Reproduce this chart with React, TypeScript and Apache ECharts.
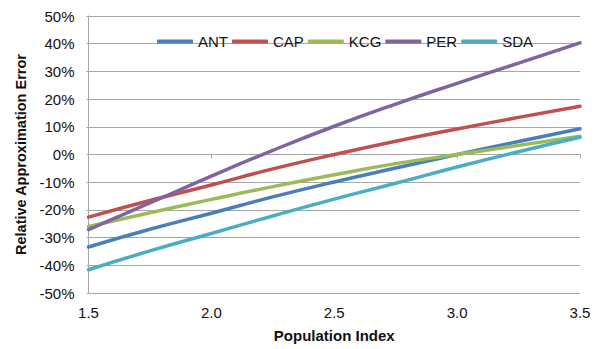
import React, { useEffect, useRef } from "react";
import * as echarts from "echarts";

// Population index sample points (x axis)
const populationIndex = [1.5, 1.75, 2.0, 2.25, 2.5, 2.75, 3.0, 3.25, 3.5];

// Relative approximation error per method, in percent
const ant = [-33.4, -27.0, -21.2, -15.3, -9.9, -4.9, 0.0, 4.7, 9.3];
const cap = [-22.6, -16.6, -11.0, -5.2, 0.0, 4.8, 9.2, 13.4, 17.4];
const kcg = [-26.0, -21.0, -16.2, -11.6, -7.3, -3.3, 0.0, 3.3, 6.6];
const per = [-27.1, -17.5, -7.8, 1.5, 10.2, 18.2, 25.7, 33.0, 40.3];
const sda = [-41.6, -34.8, -28.5, -22.2, -16.1, -10.4, -4.5, 1.0, 6.2];

const seriesNames = ["ANT", "CAP", "KCG", "PER", "SDA"];
const seriesValues = [ant, cap, kcg, per, sda];
const seriesColors = ["#4A7EBB", "#C0504D", "#9BBB59", "#8064A2", "#4BACC6"];

const FONT = "'Liberation Sans', Arial, sans-serif";

export default function App() {
  const ref = useRef<HTMLDivElement>(null);

  useEffect(() => {
    if (!ref.current) return;
    const chart = echarts.init(ref.current, undefined, { renderer: "svg" });

    chart.setOption({
      animation: false,
      backgroundColor: "#ffffff",
      textStyle: { fontFamily: FONT },
      grid: { left: 88.5, right: 27, top: 16, bottom: 56 },
      legend: {
        left: 152,
        top: 29,
        itemWidth: 36,
        itemHeight: 4,
        itemGap: 4,
        icon: "roundRect",
        textStyle: { fontFamily: FONT, fontSize: 15, color: "#111", width: 33 },
        data: seriesNames,
      },
      xAxis: {
        type: "value",
        min: 1.5,
        max: 3.5,
        interval: 0.5,
        name: "Population Index",
        nameLocation: "middle",
        nameGap: 35,
        nameTextStyle: { fontFamily: FONT, fontSize: 15, fontWeight: "bold", color: "#111" },
        axisLine: { show: true, lineStyle: { color: "#a6a6a6", width: 1 } },
        axisTick: { show: true, length: 4, lineStyle: { color: "#a6a6a6" } },
        axisLabel: {
          fontFamily: FONT,
          fontSize: 15,
          color: "#111",
          margin: 12,
          formatter: (v: number) => v.toFixed(1),
        },
        splitLine: { show: false },
      },
      yAxis: {
        type: "value",
        min: -50,
        max: 50,
        interval: 10,
        name: "Relative Approximation Error",
        nameLocation: "middle",
        nameGap: 60,
        nameTextStyle: { fontFamily: FONT, fontSize: 14.5, fontWeight: "bold", color: "#111" },
        axisLine: { show: true, lineStyle: { color: "#a6a6a6", width: 1 } },
        axisTick: { show: true, length: 2, lineStyle: { color: "#a6a6a6" } },
        axisLabel: {
          fontFamily: FONT,
          fontSize: 15,
          color: "#111",
          margin: 14,
          formatter: (v: number) => `${v}%`,
        },
        splitLine: { show: true, lineStyle: { color: "#a6a6a6", width: 1 } },
      },
      series: seriesNames.map((name, i) => ({
        name,
        type: "line",
        smooth: true,
        showSymbol: false,
        symbol: "none",
        color: seriesColors[i],
        lineStyle: { width: 3.5, color: seriesColors[i], cap: "round" },
        data: populationIndex.map((x, j) => [x, seriesValues[i][j]]),
      })),
    });

    return () => chart.dispose();
  }, []);

  return (
    <div
      ref={ref}
      style={{ position: "fixed", left: 0, top: 0, width: 607, height: 349, background: "#fff" }}
    />
  );
}
